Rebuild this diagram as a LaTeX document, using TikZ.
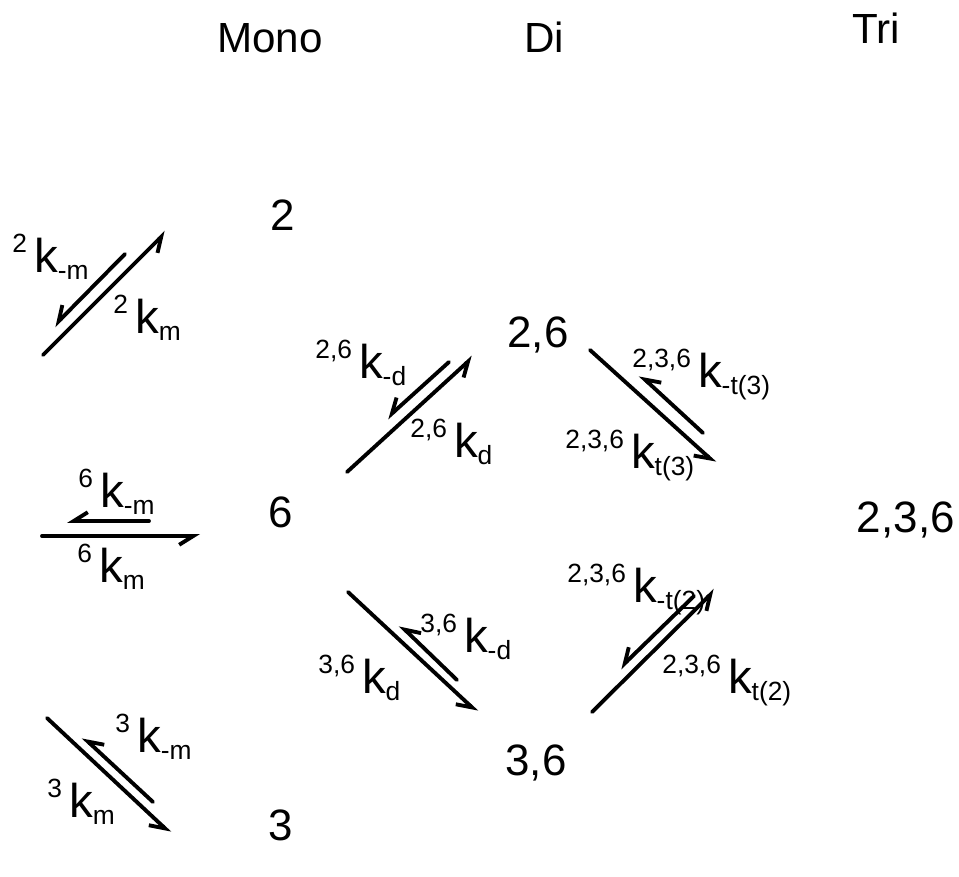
\documentclass[tikz,border=0pt]{standalone}
\usepackage{fontspec}
\setmainfont{Liberation Sans}
\usepackage{tikz}
\usetikzlibrary{arrows.meta}

\newcommand{\fsz}[1]{\fontsize{#1}{#1}\selectfont}
% rate constant: prefix, k, subscript
\newcommand{\rk}[2]{\raisebox{11pt}{\fsz{15}#1}\hspace{4pt}{\fsz{27}k}\raisebox{-4.5pt}{\fsz{15}#2}}

\begin{document}
\begin{tikzpicture}[
  x=0.02cm, y=-0.02cm,
  header/.style={font=\fsz{24}, inner sep=0pt, anchor=base},
  species/.style={font=\fsz{25}, inner sep=0pt, anchor=base},
  rate/.style={inner sep=0pt, anchor=base west},
  eqarrow/.style={line width=2.2pt, line cap=round,
                  -{Straight Barb[harpoon, swap, length=8pt, width=10pt]}},
]
  \useasboundingbox (0,0) rectangle (959,876);

  % Column headers
  \node[header] (hmono) at (270,52) {Mono};
  \node[header] (hdi)   at (544,52) {Di};
  \node[header] (htri)  at (876,43) {Tri};

  % Species
  \node[species] (s2)   at (283,230) {2};
  \node[species] (s6)   at (281,527) {6};
  \node[species] (s3)   at (281,840) {3};
  \node[species] (s26)  at (538,347) {2,6};
  \node[species] (s36)  at (536,775) {3,6};
  \node[species, anchor=base east] (s236) at (955,532) {2,3,6};

  % Arrow ends
  \coordinate (m2a) at (43,355);   \coordinate (m2b) at (166,232);
  \coordinate (m2c) at (125,254);  \coordinate (m2d) at (54,326);
  \coordinate (m6a) at (42,536);   \coordinate (m6b) at (200,536);
  \coordinate (m6c) at (149,521);  \coordinate (m6d) at (67,521);
  \coordinate (m3a) at (47,718);   \coordinate (m3b) at (170,833);
  \coordinate (m3c) at (153,802);  \coordinate (m3d) at (83,737);
  \coordinate (d26a) at (347,472); \coordinate (d26b) at (473,357);
  \coordinate (d26c) at (449,362); \coordinate (d26d) at (387,418);
  \coordinate (t3a) at (590,350);  \coordinate (t3b) at (715,463);
  \coordinate (t3c) at (703,433);  \coordinate (t3d) at (640,375);
  \coordinate (d36a) at (348,592); \coordinate (d36b) at (477,712);
  \coordinate (d36c) at (457,680); \coordinate (d36d) at (400,625);
  \coordinate (t2a) at (592,712);  \coordinate (t2b) at (715,590);
  \coordinate (t2c) at (694,596);  \coordinate (t2d) at (620,668);

  % Equilibria
  \draw[eqarrow] (m2a) -- (m2b);
  \draw[eqarrow] (m2c) -- (m2d);
  \draw[eqarrow] (m6a) -- (m6b);
  \draw[eqarrow] (m6c) -- (m6d);
  \draw[eqarrow] (m3a) -- (m3b);
  \draw[eqarrow] (m3c) -- (m3d);
  \draw[eqarrow] (d26a) -- (d26b);
  \draw[eqarrow] (d26c) -- (d26d);
  \draw[eqarrow] (t3a) -- (t3b);
  \draw[eqarrow] (t3c) -- (t3d);
  \draw[eqarrow] (d36a) -- (d36b);
  \draw[eqarrow] (d36c) -- (d36d);
  \draw[eqarrow] (t2a) -- (t2b);
  \draw[eqarrow] (t2c) -- (t2d);

  % Rate constants
  \node[rate] (k2r)  at (12,272)  {\rk{2}{-m}};
  \node[rate] (k2f)  at (113,333) {\rk{2}{m}};
  \node[rate] (k6r)  at (78,507)  {\rk{6}{-m}};
  \node[rate] (k6f)  at (77,582)  {\rk{6}{m}};
  \node[rate] (k3r)  at (115,752) {\rk{3}{-m}};
  \node[rate] (k3f)  at (47,817)  {\rk{3}{m}};
  \node[rate] (k26r) at (315,378) {\rk{2,6}{-d}};
  \node[rate] (k26f) at (410,457) {\rk{2,6}{d}};
  \node[rate] (kt3r) at (632,387) {\rk{2,3,6}{-t(3)}};
  \node[rate] (kt3f) at (565,468) {\rk{2,3,6}{t(3)}};
  \node[rate] (k36r) at (420,652) {\rk{3,6}{-d}};
  \node[rate] (k36f) at (318,693) {\rk{3,6}{d}};
  \node[rate] (kt2r) at (567,602) {\rk{2,3,6}{-t(2)}};
  \node[rate] (kt2f) at (662,693) {\rk{2,3,6}{t(2)}};
\end{tikzpicture}
\end{document}
